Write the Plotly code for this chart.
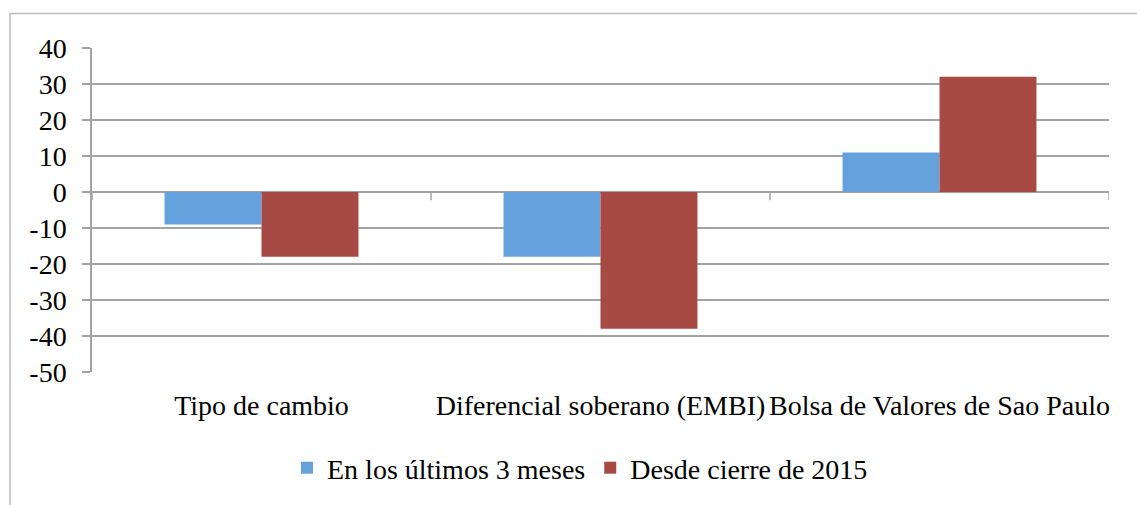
import plotly.graph_objects as go

categories = ["Tipo de cambio", "Diferencial soberano (EMBI)", "Bolsa de Valores de Sao Paulo"]
series_names = ["En los últimos 3 meses", "Desde cierre de 2015"]
ultimos_3_meses = [-9, -18, 11]
desde_cierre_2015 = [-18, -38, 32]
y_ticks = [40, 30, 20, 10, 0, -10, -20, -30, -40, -50]

BLUE = "#65A1DD"
RED = "#A74A44"
GRID = "#A3A3A3"
FONT = "Liberation Serif, serif"
FS = 28

fig = go.Figure()
fig.add_trace(go.Bar(x=categories, y=ultimos_3_meses, name=series_names[0],
                     marker=dict(color=BLUE, line=dict(width=0))))
fig.add_trace(go.Bar(x=categories, y=desde_cierre_2015, name=series_names[1],
                     marker=dict(color=RED, line=dict(width=0))))

W, H = 1137, 505
L, R, T, B = 92, 28, 48, 133
pw, ph = W - L - R, H - T - B

def px_x(p):
    return (p - L) / pw

def px_y(p):
    return 1 - (p - T) / ph

shapes = []
# outer chart border
shapes.append(dict(type="rect", xref="paper", yref="paper",
                   x0=px_x(10), x1=px_x(W + 20), y0=px_y(H + 20), y1=px_y(13.5),
                   line=dict(color="#BDBDBD", width=1.5), fillcolor="rgba(0,0,0,0)", layer="below"))
# category tick marks on the zero line
for i in range(len(categories) + 1):
    shapes.append(dict(type="line", xref="x", yref="y",
                       x0=i - 0.5, x1=i - 0.5, y0=0, y1=-2.3,
                       line=dict(color=GRID, width=1.5)))

fig.update_layout(
    width=W, height=H,
    margin=dict(l=L, r=R, t=T, b=B, autoexpand=False),
    paper_bgcolor="white", plot_bgcolor="white",
    barmode="group", bargap=0.428, bargroupgap=0,
    font=dict(family=FONT, size=FS, color="black"),
    showlegend=True,
    legend=dict(orientation="h", x=px_x(580), xanchor="center", y=px_y(468), yanchor="middle",
                font=dict(family=FONT, size=FS, color="black"),
                itemwidth=30, tracegroupgap=0, traceorder="normal"),
    shapes=shapes,
)
fig.update_xaxes(range=[-0.5, 2.5], showgrid=False, showline=False, zeroline=False,
                 ticks="", tickfont=dict(family=FONT, size=FS, color="black"), ticklabelstandoff=14)
fig.update_yaxes(range=[-50, 40], tickvals=y_ticks, ticktext=[str(v) for v in y_ticks],
                 showgrid=True, gridcolor=GRID, gridwidth=1.5,
                 zeroline=True, zerolinecolor=GRID, zerolinewidth=1.5,
                 showline=True, linecolor=GRID, linewidth=1.5,
                 ticks="outside", ticklen=8, tickcolor=GRID, tickwidth=1.5,
                 tickfont=dict(family=FONT, size=FS, color="black"), ticklabelstandoff=10)

fig.write_html("out.html", config={"displayModeBar": False},
               post_script="document.body.style.margin='0';")
